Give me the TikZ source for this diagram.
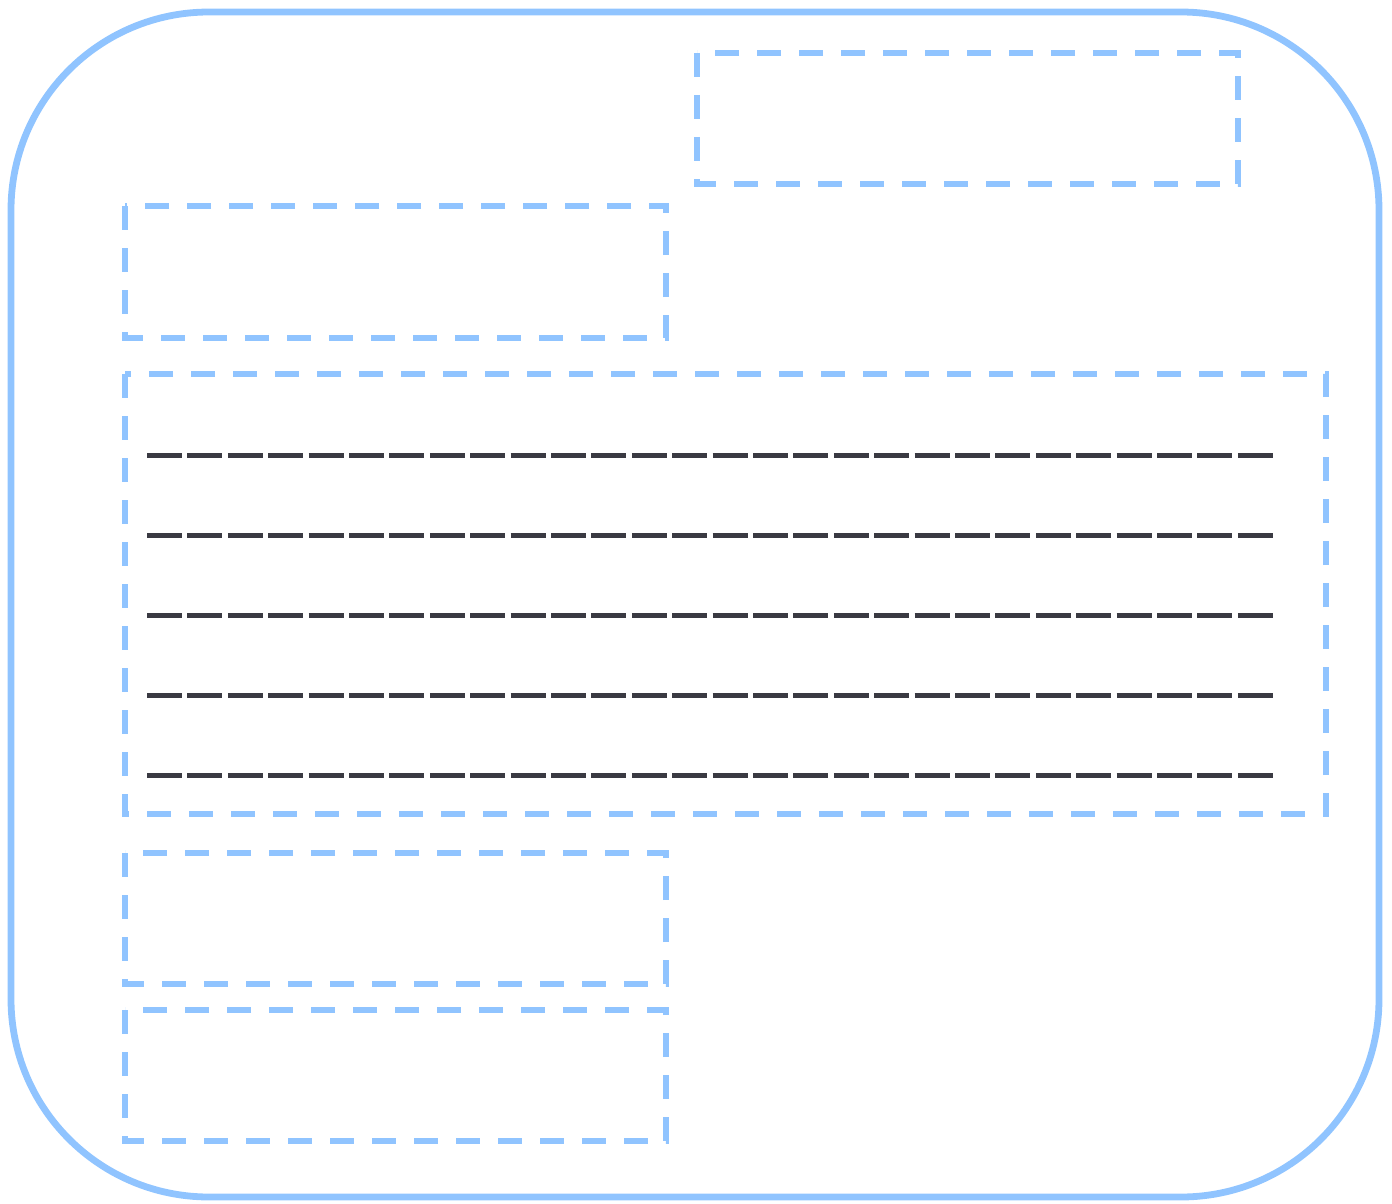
\documentclass[tikz,border=0pt]{standalone}
\definecolor{FrameBlue}{HTML}{90C4FF}
\definecolor{RuleDark}{HTML}{3A3A42}

\begin{document}
\begin{tikzpicture}[x=1pt, y=-1pt,
    slot/.style={FrameBlue, line width=5.5pt, dash pattern=on 24pt off 18pt},
    rule/.style={RuleDark, line width=5pt, dash pattern=on 35pt off 5.4pt}]
    % =========================================
    % 1. Canvas and outer frame
    % =========================================
    \useasboundingbox (0,0) rectangle (1392,1204);
    \draw[FrameBlue, line width=6.8pt, rounded corners=198pt] (11,12) rectangle (1379,1197);

    % =========================================
    % 2. Dashed slots
    % =========================================
    \draw[slot] (697,53) rectangle (1238,184);   % top right
    \draw[slot] (125,206) rectangle (666,338);   % left
    \draw[slot] (125,374) rectangle (1326,814);  % wide body
    \draw[slot] (125,853) rectangle (666,984);   % lower left
    \draw[slot] (125,1010) rectangle (666,1141); % bottom left

    % =========================================
    % 3. Ruled lines inside the body
    % =========================================
    \foreach \y in {455,535,615,695,775}
        \draw[rule] (147,\y) -- (1273,\y);

\end{tikzpicture}
\end{document}
